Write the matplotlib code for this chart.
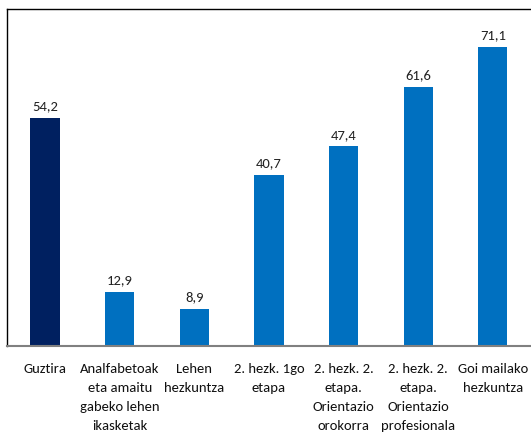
import matplotlib
matplotlib.use("Agg")
import matplotlib.pyplot as plt

categories = ["Guztira", "Analfabetoak\neta amaitu\ngabeko lehen\nikasketak", "Lehen\nhezkuntza",
              "2. hezk. 1go\netapa", "2. hezk. 2.\netapa.\nOrientazio\norokorra",
              "2. hezk. 2.\netapa.\nOrientazio\nprofesionala", "Goi mailako\nhezkuntza"]
values = [54.2, 12.9, 8.9, 40.7, 47.4, 61.6, 71.1]
labels = ["54,2", "12,9", "8,9", "40,7", "47,4", "61,6", "71,1"]
colors = ["#002060"] + ["#0070C0"] * 6

plt.rcParams['font.family'] = ["Carlito", "DejaVu Sans"]

fig = plt.figure(figsize=(5.31, 4.37), dpi=100)
ax = fig.add_axes([0.013, 0.2082, 0.987, 0.771])
x = list(range(len(values)))
ax.bar(x, values, width=0.39, color=colors)
for xi, v, l in zip(x, values, labels):
    ax.annotate(l, (xi, v), xytext=(0, 4), textcoords="offset points",
                ha="center", va="bottom", fontsize=10.5, color="#222222")
ax.set_xlim(-0.51, 6.51)
ax.set_ylim(0, 80)
ax.set_yticks([])
ax.set_xticks(x)
ax.set_xticklabels(categories, fontsize=10.5, linespacing=1.72, va="top", color="#111111")
ax.tick_params(axis="x", length=0, pad=12)
for s in ["top", "left"]:
    ax.spines[s].set_color("black")
    ax.spines[s].set_linewidth(1.0)
ax.spines["right"].set_visible(False)
ax.spines["bottom"].set_color("#808080")
ax.spines["bottom"].set_linewidth(1.5)
fig.savefig("out.png", dpi=100)
